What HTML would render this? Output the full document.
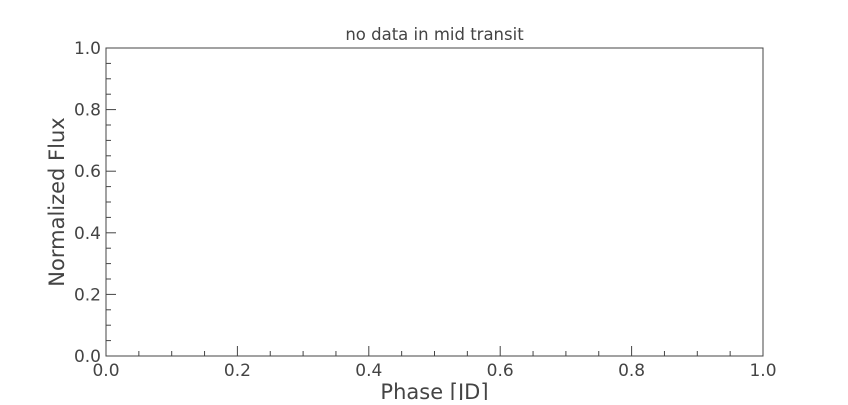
<!DOCTYPE html>
<html><head><style>
body{margin:0;background:#fff;}
svg text{font-family:"DejaVu Sans","Liberation Sans",sans-serif;fill:#444;}
</style></head><body>
<svg id="chart" width="848" height="400" xmlns="http://www.w3.org/2000/svg">
<text x="434.5" y="40" font-size="16.5" text-anchor="middle">no data in mid transit</text>
<g id="axes"></g>
<rect x="106" y="48" width="657" height="308" fill="none" stroke="#444" stroke-width="1"/>
<text x="434.5" y="399" font-size="21" text-anchor="middle">Phase [JD]</text>
<text transform="translate(64,202) rotate(-90)" font-size="21" text-anchor="middle">Normalized Flux</text>
</svg>
<script>
const xTicks=[0,0.2,0.4,0.6,0.8,1.0];
const yTicks=[0,0.2,0.4,0.6,0.8,1.0];
const xTickLabels=["0.0","0.2","0.4","0.6","0.8","1.0"];
const yTickLabels=["0.0","0.2","0.4","0.6","0.8","1.0"];
const minorStep=0.05;
const X0=106,X1=763,Y0=356,Y1=48;
const sx=v=>X0+(X1-X0)*v;
const sy=v=>Y0-(Y0-Y1)*v;
const g=document.getElementById('axes');
const NS="http://www.w3.org/2000/svg";
function line(x1,y1,x2,y2,name){const l=document.createElementNS(NS,'line');
l.setAttribute('x1',x1);l.setAttribute('y1',y1);l.setAttribute('x2',x2);l.setAttribute('y2',y2);
l.setAttribute('stroke','#444');l.setAttribute('stroke-width','1');


g.appendChild(l);}
function text(x,y,s,anchor,name){const t=document.createElementNS(NS,'text');
t.setAttribute('x',x);t.setAttribute('y',y);t.setAttribute('font-size','17');t.setAttribute('text-anchor',anchor);
t.textContent=s;


g.appendChild(t);}
for(let i=0;i<=20;i++){const v=i*minorStep;
 if(i%4!==0){line(sx(v),Y0,sx(v),Y0-5,'x-minor-tick');line(X0,sy(v),X0+5,sy(v),'y-minor-tick');}}
xTicks.forEach((v,i)=>{line(sx(v),Y0,sx(v),Y0-10,'x-major-tick');text(sx(v),Y0+20,xTickLabels[i],'middle','x-tick-label');});
yTicks.forEach((v,i)=>{line(X0,sy(v),X0+10,sy(v),'y-major-tick');text(X0-5,sy(v)+6,yTickLabels[i],'end','y-tick-label');});
</script>
</body></html>
